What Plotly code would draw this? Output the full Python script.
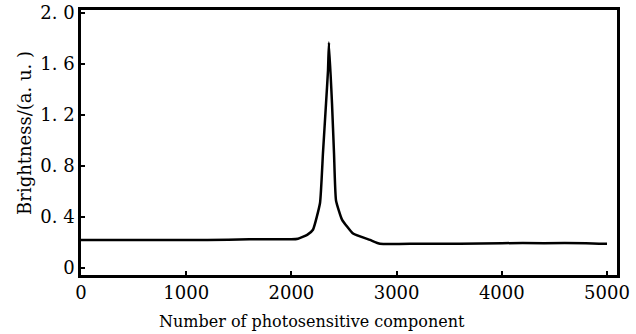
import plotly.graph_objects as go

# Brightness profile along the photosensitive array
pixel = [0, 400, 800, 1200, 1600, 2000, 2063, 2150, 2205, 2272, 2300, 2329, 2348, 2357,
         2386, 2405, 2424, 2481, 2586, 2747, 2842, 3200, 3600, 4000, 4400, 4800, 5000]
brightness = [0.22, 0.22, 0.22, 0.22, 0.225, 0.225, 0.23, 0.26, 0.30, 0.51, 0.90, 1.29, 1.55, 1.77,
              1.29, 0.90, 0.53, 0.38, 0.27, 0.22, 0.19, 0.19, 0.19, 0.195, 0.195, 0.195, 0.19]

x_ticks = [0, 1000, 2000, 3000, 4000, 5000]
y_ticks = [0, 0.4, 0.8, 1.2, 1.6, 2.0]
y_tick_text = ["0", "0. 4", "0. 8", "1. 2", "1. 6", "2. 0"]

x_title = "Number of photosensitive component"
y_title = "Brightness/(a. u. )"

serif = "DejaVu Serif, Liberation Serif, serif"
tick_font = dict(size=18, family=serif)

fig = go.Figure(
    go.Scatter(x=pixel, y=brightness, mode="lines",
               line=dict(color="black", width=2.5, shape="spline", smoothing=0.4))
)

fig.update_layout(
    width=636, height=334,
    margin=dict(l=81, r=19, t=10, b=59, autoexpand=False),
    paper_bgcolor="white", plot_bgcolor="white",
    showlegend=False,
    font=dict(family=serif, color="black"),
)

fig.update_xaxes(
    range=[0, 5095], tickvals=x_ticks, ticktext=[str(v) for v in x_ticks],
    ticks="inside", ticklen=4, tickwidth=1.5, tickcolor="black",
    showline=True, linecolor="black", linewidth=2.5, mirror=True,
    showgrid=False, zeroline=False, automargin=False,
    tickfont=tick_font,
)

fig.update_yaxes(
    range=[-0.055, 2.024], tickvals=y_ticks, ticktext=y_tick_text,
    ticks="inside", ticklen=4, tickwidth=1.5, tickcolor="black",
    showline=True, linecolor="black", linewidth=2.5, mirror=True,
    showgrid=False, zeroline=False, automargin=False,
    tickfont=tick_font,
)

# axis titles placed as annotations so their positions can be set freely
fig.add_annotation(
    text=x_title, xref="paper", yref="paper", x=0.431, y=-0.174,
    xanchor="center", yanchor="middle", showarrow=False,
    font=dict(size=16, family=serif, color="black"),
)
fig.add_annotation(
    text=y_title, xref="paper", yref="paper", x=-0.105, y=0.535,
    xanchor="center", yanchor="middle", showarrow=False, textangle=-90,
    font=dict(size=18, family=serif, color="black"),
)

fig.write_html("out.html")
